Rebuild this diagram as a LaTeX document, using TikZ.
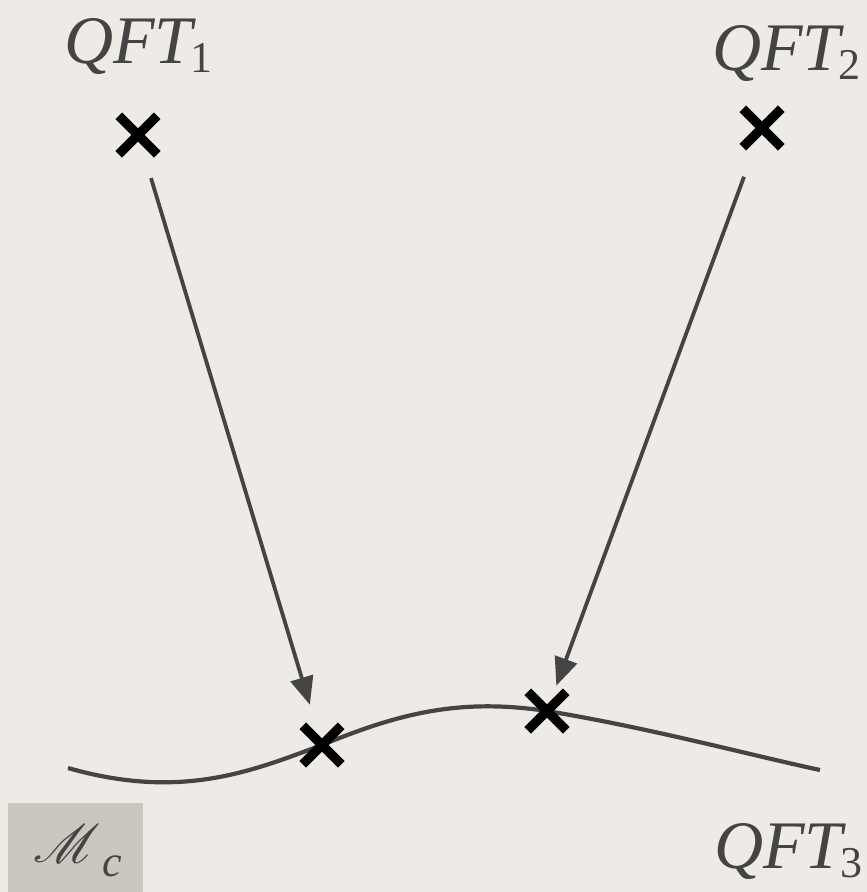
\documentclass[tikz,border=0pt]{standalone}
\usepackage{fontspec}
\setmainfont{Liberation Serif}
\usepackage{mathrsfs}
\usetikzlibrary{arrows.meta,shapes.misc}
\definecolor{paper}{HTML}{EEEBE6}
\definecolor{ink}{HTML}{444444}
\definecolor{boxgray}{HTML}{CBC6BE}
\newcommand{\qftlabel}[1]{{\fontsize{68}{74}\selectfont\itshape QFT}\kern-2pt\raisebox{-9pt}{\fontsize{44}{48}\selectfont #1}}
\begin{document}
\begin{tikzpicture}[x=1pt,y=-1pt,
  xmark/.style={cross out,draw=black,line width=9.5pt,minimum size=29pt,inner sep=0pt},
  lbl/.style={text=ink,inner sep=0pt,anchor=base west},
  arr/.style={draw=ink,line width=3.8pt,-{Triangle[length=28pt,width=23pt]}},
  curveline/.style={draw=ink,line width=4.2pt}]
\fill[paper] (0,0) rectangle (867,892);
\useasboundingbox (0,0) rectangle (867,892);
% labels
\node[lbl] (q1) at (64,63) {\qftlabel{1}};
\node[lbl] (q2) at (712,70) {\qftlabel{2}};
\node[lbl] (q3) at (714,868) {\qftlabel{3}};
% box
\node[fill=boxgray,minimum width=135pt,minimum height=90pt,inner sep=0pt,anchor=north west] (mcbox) at (8,803) {};
\node[text=ink,inner sep=0pt,anchor=base west] (mc) at (33,862) {\scalebox{5.4}{$\mathscr{M}$}\kern2pt\raisebox{-14pt}{\fontsize{44}{48}\selectfont\itshape c}};
% curve
\coordinate (c0) at (68,768);
\coordinate (c1) at (820,770);
\coordinate (p3) at (322,745);
\coordinate (p4) at (547,711);
\draw[curveline] (c0) .. controls (180,800) and (250,772) .. (p3)
  .. controls (400,713) and (460,698) .. (p4)
  .. controls (650,728) and (750,755) .. (c1);
% crosses
\node[xmark] (x1) at (138,135) {};
\node[xmark] (x2) at (762,128) {};
\node[xmark] (x3) at (p3) {};
\node[xmark] (x4) at (p4) {};
% arrows
\draw[arr,shorten <=45pt,shorten >=42pt] (x1.center) -- (x3.center);
\draw[arr,shorten <=52pt,shorten >=27pt] (x2.center) -- (x4.center);
\end{tikzpicture}
\end{document}
